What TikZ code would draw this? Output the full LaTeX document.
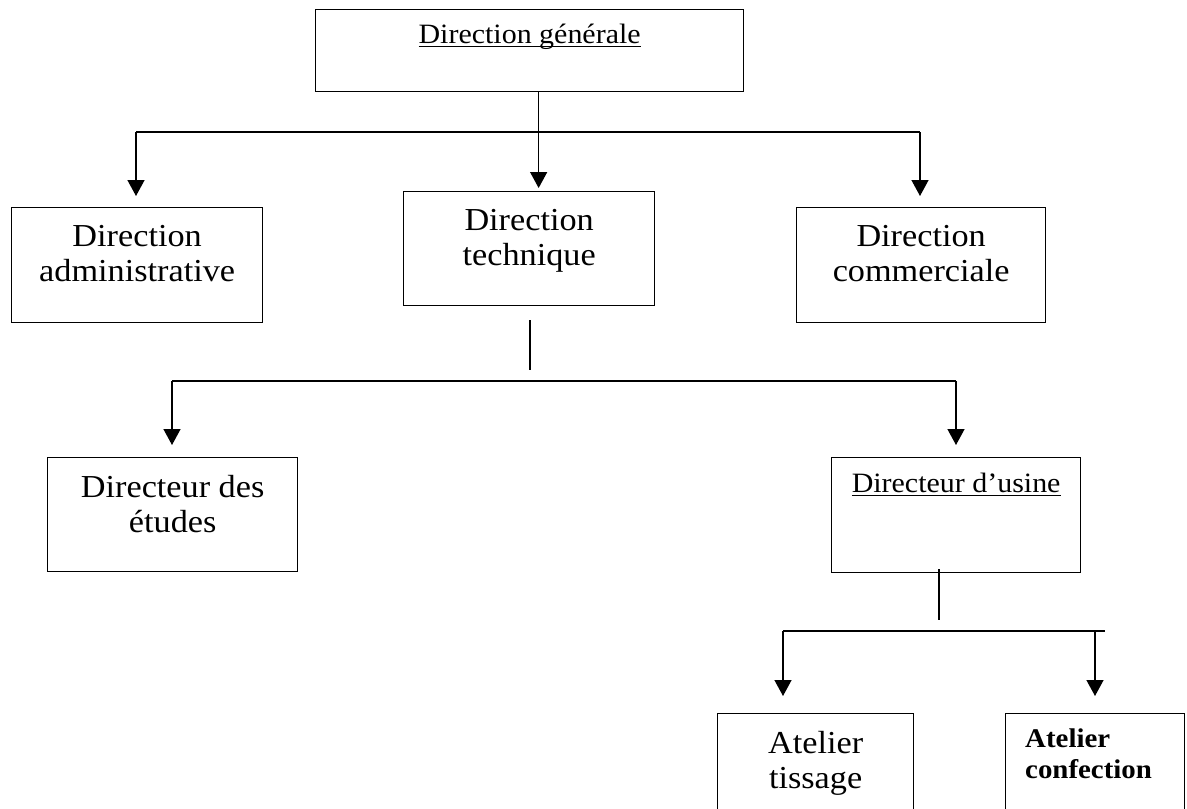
\documentclass[tikz,border=0pt]{standalone}
\usepackage{fontspec}
\setmainfont{Liberation Serif}[FakeStretch=1.07]
\usetikzlibrary{arrows.meta}
\newcommand\myul[1]{\setbox0\hbox{#1}\rlap{\rule[-4pt]{\wd0}{1pt}}\box0}
\begin{document}
\begin{tikzpicture}[x=1pt,y=-1pt,
  box/.style={draw, line width=1.3pt, rectangle, inner sep=0pt, anchor=north west},
  big/.style={font=\fontsize{32}{35}\selectfont, align=center, inner sep=0pt, anchor=north},
  small/.style={font=\fontsize{28}{30}\selectfont, inner sep=0pt, anchor=base},
  bld/.style={font=\fontsize{27}{31}\selectfont\bfseries, align=left, inner sep=0pt, anchor=north west},
  ln/.style={line width=1.4pt},
  arr/.style={ln, -{Triangle[width=17pt,length=16pt]}}]
\clip (0,0) rectangle (1187,809);
\fill[white] (0,0) rectangle (1187,809);
% boxes
\node[box, minimum width=428pt, minimum height=82pt] (gen) at (315,9) {};
\node[box, minimum width=251pt, minimum height=115pt] (adm) at (11,207) {};
\node[box, minimum width=251pt, minimum height=114pt] (tech) at (403,191) {};
\node[box, minimum width=249pt, minimum height=115pt] (com) at (796,207) {};
\node[box, minimum width=250pt, minimum height=114pt] (etu) at (47,457) {};
\node[box, minimum width=249pt, minimum height=115pt] (usi) at (831,457) {};
\node[box, minimum width=196pt, minimum height=150pt] (tis) at (717,713) {};
\node[box, minimum width=179pt, minimum height=150pt] (con) at (1005,713) {};
% texts
\node[small] (tgen) at ([yshift=-34pt]gen.north) {\myul{Direction générale}};
\node[big] (tadm) at ([yshift=-18pt]adm.north) {Direction\\administrative};
\node[big] (ttech) at ([yshift=-18pt]tech.north) {Direction\\technique};
\node[big] (tcom) at ([yshift=-18pt]com.north) {Direction\\commerciale};
\node[big] (tetu) at ([yshift=-18pt]etu.north) {Directeur des\\études};
\node[small] (tusi) at ([yshift=-35pt]usi.north) {\myul{Directeur d’usine}};
\node[big] (ttis) at ([yshift=-18pt]tis.north) {Atelier\\tissage};
\node[bld] (tcon) at ([xshift=20pt,yshift=-16pt]con.north west) {Atelier\\confection};
% level 1 connectors
\coordinate (g0) at ([xshift=9pt]gen.south);
\coordinate (ja) at (136,132);
\coordinate (jb) at (920,132);
\draw[ln] (ja) -- (jb);
\draw[arr, shorten >=3pt] (g0) -- (g0 |- tech.north);
\draw[arr, shorten >=11pt] (ja) -- (ja |- adm.north);
\draw[arr, shorten >=11pt] (jb) -- (jb |- com.north);
% level 2 connectors
\coordinate (ta) at (530,320);
\coordinate (tb) at (530,370);
\draw[ln] (ta) -- (tb);
\coordinate (ka) at (172,381);
\coordinate (kb) at (956,381);
\draw[ln] (ka) -- (kb);
\draw[arr, shorten >=12pt] (ka) -- (ka |- etu.north);
\draw[arr, shorten >=12pt] (kb) -- (kb |- usi.north);
% level 3 connectors
\coordinate (ua) at (939,569);
\coordinate (ub) at (939,620);
\draw[ln] (ua) -- (ub);
\coordinate (la) at (783,631);
\coordinate (lb) at (1095,631);
\coordinate (lc) at (1105,631);
\draw[ln] (la) -- (lc);
\draw[arr, shorten >=17pt] (la) -- (la |- tis.north);
\draw[arr, shorten >=17pt] (lb) -- (lb |- con.north);
\end{tikzpicture}
\end{document}
